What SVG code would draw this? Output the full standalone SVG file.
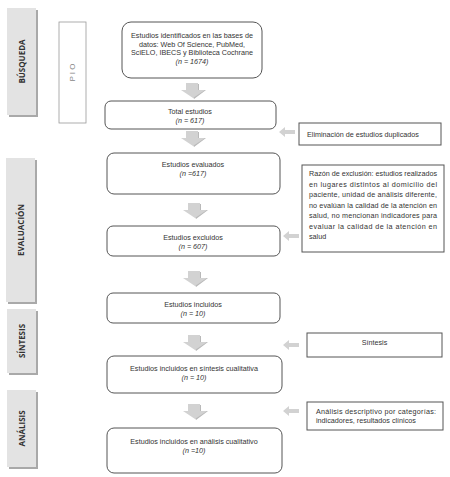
<svg xmlns="http://www.w3.org/2000/svg" width="450" height="477" viewBox="0 0 450 477">
<defs>
<style>
.tab{fill:#e3e3e3;}
.tabsh{fill:#a9a9a9;}
.tabt{font-family:"Open Sans","DejaVu Sans",sans-serif;font-weight:bold;font-size:8px;fill:#333;text-anchor:middle;}
.node{fill:#fff;stroke:#555;stroke-width:1;}
.side{fill:#fff;stroke:#555;stroke-width:1;}
.t{font-family:"Liberation Sans",Arial,sans-serif;font-size:7.2px;fill:#333;text-anchor:middle;}
.tl{font-family:"Liberation Sans",Arial,sans-serif;font-size:7.2px;fill:#333;}
.it{font-style:italic;}
.arr{fill:#d2d2d2;}
.arrsh{fill:#b9b9b9;}
</style>
<symbol id="down" viewBox="0 0 26 16" overflow="visible">
<path class="arrsh" d="M7 1 H19 V7 H26 L14 16 Z"/>
<path class="arr" d="M6 0 H18 V7 H25 L13 15 L1 7 H6 Z"/>
</symbol>
<symbol id="left" viewBox="0 0 16 10" overflow="visible">
<path class="arr" d="M0 5 L6 0 V3 H16 V7 H6 V10 Z"/>
</symbol>
</defs>
<rect width="450" height="477" fill="#fff"/>

<g id="tab-busqueda">
<rect class="tabsh" x="9" y="10" width="29" height="107"/>
<rect class="tab" x="7" y="8" width="29" height="107"/>
<text class="tabt" transform="translate(24.5,61.5) rotate(-90)">BÚSQUEDA</text>
</g>
<g id="tab-evaluacion">
<rect class="tabsh" x="8" y="160" width="29" height="144"/>
<rect class="tab" x="6" y="158" width="29" height="144"/>
<text class="tabt" transform="translate(23.5,230) rotate(-90)">EVALUACIÓN</text>
</g>
<g id="tab-sintesis">
<rect class="tabsh" x="9" y="311" width="29" height="64"/>
<rect class="tab" x="7" y="309" width="29" height="64"/>
<text class="tabt" transform="translate(24.5,341) rotate(-90)">SÍNTESIS</text>
</g>
<g id="tab-analisis">
<rect class="tabsh" x="9" y="392" width="29" height="77"/>
<rect class="tab" x="7" y="390" width="29" height="77"/>
<text class="tabt" transform="translate(24.5,428.5) rotate(-90)">ANÁLISIS</text>
</g>

<g id="pio">
<rect x="59" y="22" width="27" height="101" fill="#fff" stroke="#999" stroke-width="0.8"/>
<text transform="translate(75,72.5) rotate(-90)" font-family="Liberation Sans,Arial,sans-serif" font-size="8" fill="#888" text-anchor="middle">P I O</text>
</g>

<g id="n1">
<rect class="node" x="122" y="22" width="140" height="56" rx="9"/>
<text class="t" x="192" y="38">Estudios identificados en las bases de</text>
<text class="t" x="192" y="46.5">datos: Web Of Science, PubMed,</text>
<text class="t" x="192" y="55">SciELO, IBECS y Biblioteca Cochrane</text>
<text class="t it" x="192" y="63.5">(n = 1674)</text>
</g>
<g id="n2">
<rect class="node" x="105" y="101" width="171" height="28" rx="6"/>
<text class="t" x="190" y="114">Total estudios</text>
<text class="t it" x="190" y="122.5">(n = 617)</text>
</g>
<g id="n3">
<rect class="node" x="107" y="153" width="173" height="41" rx="7"/>
<text class="t" x="193" y="167">Estudios evaluados</text>
<text class="t it" x="193" y="176">(n =617)</text>
</g>
<g id="n4">
<rect class="node" x="107" y="226" width="173" height="30" rx="6"/>
<text class="t" x="193" y="239.5">Estudios excluidos</text>
<text class="t it" x="193" y="248.5">(n = 607)</text>
</g>
<g id="n5">
<rect class="node" x="107" y="293" width="173" height="30" rx="6"/>
<text class="t" x="193" y="306.5">Estudios incluidos</text>
<text class="t it" x="193" y="315.5">(n = 10)</text>
</g>
<g id="n6">
<rect class="node" x="107" y="356" width="175" height="37" rx="7"/>
<text class="t" x="194" y="370.5">Estudios incluidos en síntesis cualitativa</text>
<text class="t it" x="194" y="379.5">(n = 10)</text>
</g>
<g id="n7">
<rect class="node" x="107" y="428" width="175" height="45" rx="7"/>
<text class="t" x="194" y="443.5">Estudios incluidos en análisis cualitativo</text>
<text class="t it" x="194" y="452.5">(n =10)</text>
</g>

<g id="s1">
<rect class="side" x="299" y="123" width="142" height="22"/>
<text class="tl" x="307" y="136.5">Eliminación de estudios duplicados</text>
</g>
<g id="s2">
<rect class="side" x="302" y="165" width="142" height="87"/>
<text class="tl" x="309" y="176" textLength="128" lengthAdjust="spacing">Razón de exclusión: estudios realizados</text>
<text class="tl" x="309" y="186.5" textLength="128" lengthAdjust="spacing">en lugares distintos al domicilio del</text>
<text class="tl" x="309" y="197" textLength="128" lengthAdjust="spacing">paciente, unidad de análisis diferente,</text>
<text class="tl" x="309" y="207.5" textLength="128" lengthAdjust="spacing">no evalúan la calidad de la atención en</text>
<text class="tl" x="309" y="218" textLength="128" lengthAdjust="spacing">salud, no mencionan indicadores para</text>
<text class="tl" x="309" y="228.5" textLength="128" lengthAdjust="spacing">evaluar la calidad de la atención en</text>
<text class="tl" x="309" y="239">salud</text>
</g>
<g id="s3">
<rect class="side" x="307" y="333" width="135" height="24"/>
<text class="t" x="374.5" y="344.5">Síntesis</text>
</g>
<g id="s4">
<rect class="side" x="307" y="402" width="136" height="28"/>
<text class="tl" x="316" y="414" textLength="120" lengthAdjust="spacing">Análisis descriptivo por categorías:</text>
<text class="tl" x="316" y="423">indicadores, resultados clínicos</text>
</g>

<g id="connectors">
<use href="#down" x="180" y="83" width="26" height="16"/>
<use href="#down" x="180" y="131" width="26" height="16"/>
<use href="#down" x="182" y="203" width="26" height="16"/>
<use href="#down" x="182" y="271" width="26" height="16"/>
<use href="#down" x="182" y="335" width="26" height="16"/>
<use href="#down" x="182" y="404" width="26" height="16"/>
<use href="#left" x="279" y="127" width="16" height="10"/>
<use href="#left" x="283" y="231" width="16" height="10"/>
<use href="#left" x="283" y="340" width="16" height="10"/>
<use href="#left" x="283" y="406" width="16" height="10"/>
</g>
</svg>
